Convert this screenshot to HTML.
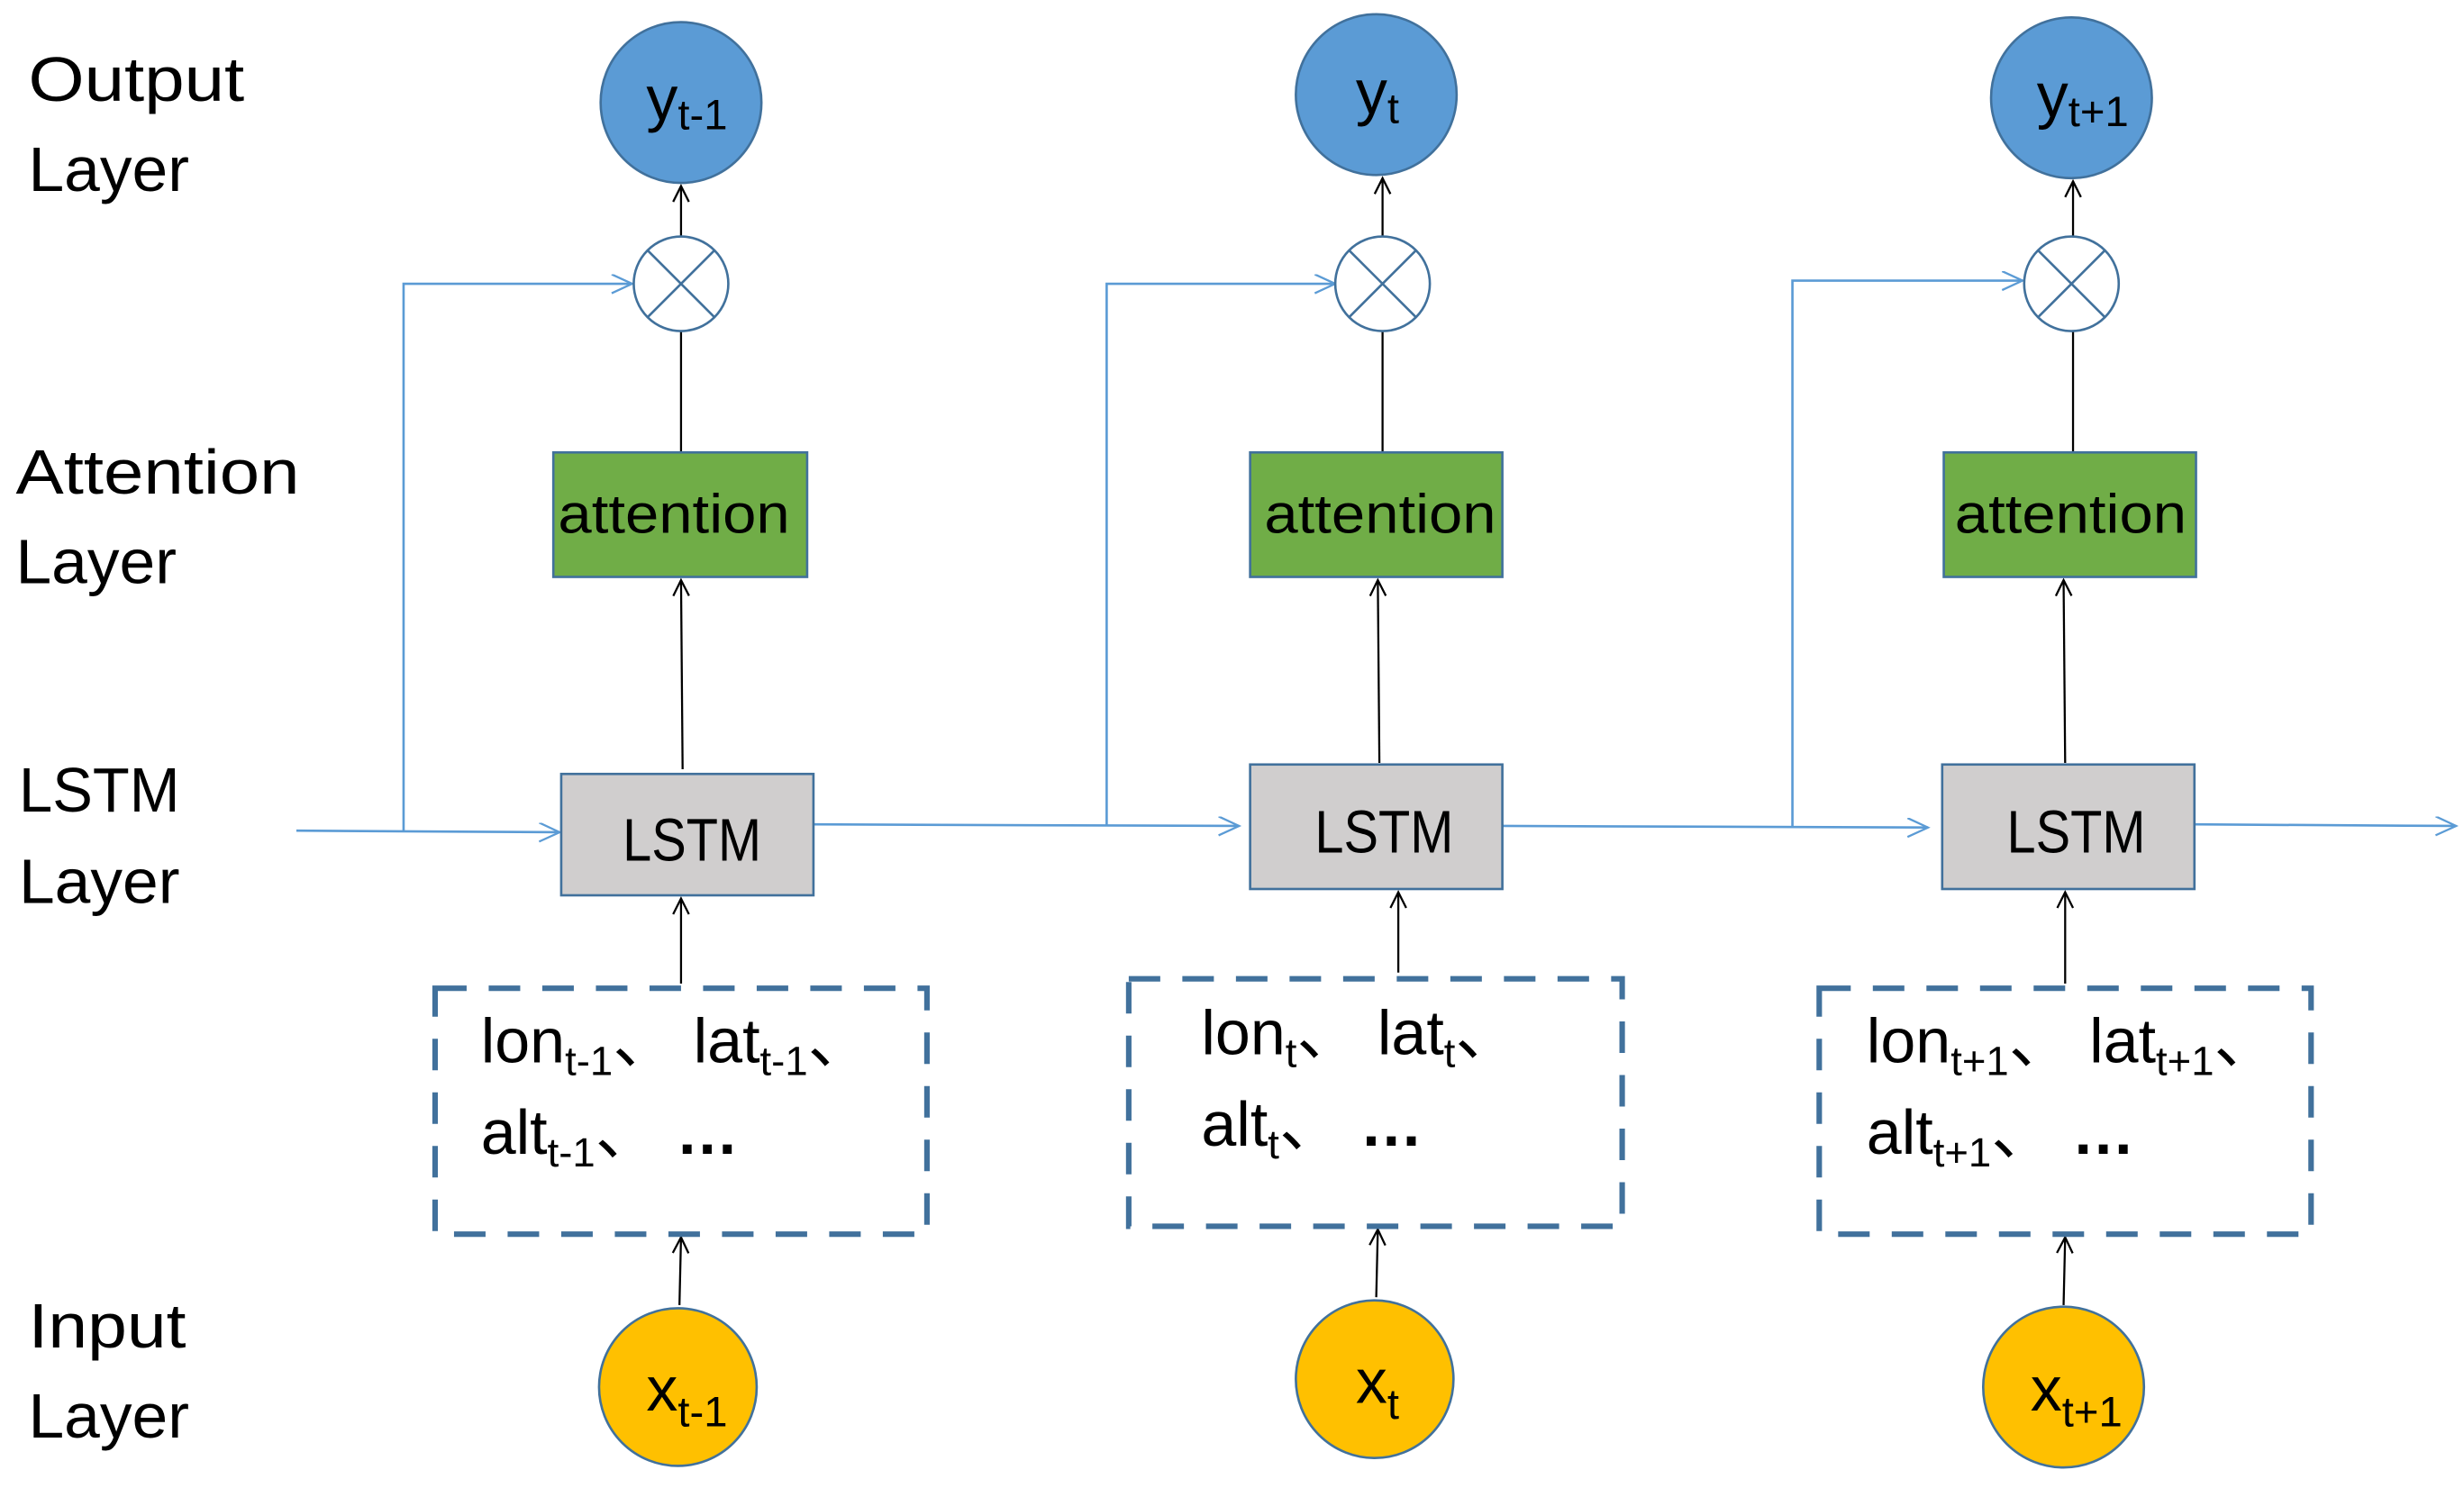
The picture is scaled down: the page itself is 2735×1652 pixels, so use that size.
<!DOCTYPE html>
<html><head><meta charset="utf-8"><style>
html,body{margin:0;padding:0;background:#fff}
svg{display:block}
text{font-family:"Liberation Sans","Noto Sans CJK SC",sans-serif;fill:#000}
</style></head><body>
<svg width="2735" height="1652" viewBox="0 0 1563 944" xmlns="http://www.w3.org/2000/svg">
<defs>
<marker id="ab" markerWidth="14" markerHeight="14" refX="11" refY="6" orient="auto" markerUnits="userSpaceOnUse"><path d="M1,1 L11,6 L1,11" fill="none" stroke="#000" stroke-width="1.3"/></marker>
<marker id="au" markerWidth="18" markerHeight="14" refX="14" refY="6" orient="auto" markerUnits="userSpaceOnUse"><path d="M1,0 L14,6 L1,12" fill="none" stroke="#5b9bd5" stroke-width="1.3"/></marker>
</defs>
<g font-size="40">
<text x="18" y="64" textLength="137" lengthAdjust="spacingAndGlyphs">Output</text>
<text x="18" y="121" textLength="102" lengthAdjust="spacingAndGlyphs">Layer</text>
<text x="10" y="313" textLength="180" lengthAdjust="spacingAndGlyphs">Attention</text>
<text x="10" y="370" textLength="102" lengthAdjust="spacingAndGlyphs">Layer</text>
<text x="12" y="515" textLength="102" lengthAdjust="spacingAndGlyphs">LSTM</text>
<text x="12" y="573" textLength="102" lengthAdjust="spacingAndGlyphs">Layer</text>
<text x="18" y="855" textLength="100" lengthAdjust="spacingAndGlyphs">Input</text>
<text x="18" y="912" textLength="102" lengthAdjust="spacingAndGlyphs">Layer</text>
</g>
<g stroke="#5b9bd5" stroke-width="1.5" fill="none">
<line x1="188" y1="527" x2="355" y2="528" marker-end="url(#au)"/>
<polyline points="256,527 256,180 401,180" marker-end="url(#au)"/>
<line x1="516" y1="523" x2="786" y2="524" marker-end="url(#au)"/>
<polyline points="702,524 702,180 847,180" marker-end="url(#au)"/>
<line x1="953" y1="524" x2="1223" y2="525" marker-end="url(#au)"/>
<polyline points="1137,524 1137,178 1283,178" marker-end="url(#au)"/>
<line x1="1392" y1="523" x2="1558" y2="524" marker-end="url(#au)"/>
</g>
<g stroke="#000" stroke-width="1.3">
<line x1="432" y1="150" x2="432" y2="118" marker-end="url(#ab)"/>
<line x1="432" y1="287" x2="432" y2="210"/>
<line x1="433" y1="488" x2="432" y2="368" marker-end="url(#ab)"/>
<line x1="432" y1="624" x2="432" y2="570" marker-end="url(#ab)"/>
<line x1="431" y1="828" x2="432" y2="785" marker-end="url(#ab)"/>
<line x1="877" y1="150" x2="877" y2="113" marker-end="url(#ab)"/>
<line x1="877" y1="287" x2="877" y2="210"/>
<line x1="875" y1="484" x2="874" y2="368" marker-end="url(#ab)"/>
<line x1="887" y1="617" x2="887" y2="566" marker-end="url(#ab)"/>
<line x1="873" y1="823" x2="874" y2="780" marker-end="url(#ab)"/>
<line x1="1315" y1="150" x2="1315" y2="115" marker-end="url(#ab)"/>
<line x1="1315" y1="287" x2="1315" y2="210"/>
<line x1="1310" y1="484" x2="1309" y2="368" marker-end="url(#ab)"/>
<line x1="1310" y1="624" x2="1310" y2="566" marker-end="url(#ab)"/>
<line x1="1309" y1="828" x2="1310" y2="785" marker-end="url(#ab)"/>
</g>
<g fill="#5b9bd5" stroke="#41719c" stroke-width="1.5">
<circle cx="432" cy="65" r="51"/><circle cx="873" cy="60" r="51"/><circle cx="1314" cy="62" r="51"/>
</g>
<g font-size="40">
<text x="410" y="76">y<tspan font-size="27" dy="6">t-1</tspan></text>
<text x="860" y="72">y<tspan font-size="27" dy="6">t</tspan></text>
<text x="1292" y="74">y<tspan font-size="27" dy="6">t+1</tspan></text>
</g>
<g fill="#fff" stroke="#41719c" stroke-width="1.5">
<circle cx="432" cy="180" r="30"/><line x1="411" y1="159" x2="453" y2="201"/><line x1="453" y1="159" x2="411" y2="201"/>
<circle cx="877" cy="180" r="30"/><line x1="856" y1="159" x2="898" y2="201"/><line x1="898" y1="159" x2="856" y2="201"/>
<circle cx="1314" cy="180" r="30"/><line x1="1293" y1="159" x2="1335" y2="201"/><line x1="1335" y1="159" x2="1293" y2="201"/>
</g>
<g fill="#70ad47" stroke="#41719c" stroke-width="1.5">
<rect x="351" y="287" width="161" height="79"/><rect x="793" y="287" width="160" height="79"/><rect x="1233" y="287" width="160" height="79"/>
</g>
<g font-size="35">
<text x="354" y="338" textLength="147" lengthAdjust="spacingAndGlyphs">attention</text>
<text x="802" y="338" textLength="147" lengthAdjust="spacingAndGlyphs">attention</text>
<text x="1240" y="338" textLength="147" lengthAdjust="spacingAndGlyphs">attention</text>
</g>
<g fill="#d0cece" stroke="#41719c" stroke-width="1.5">
<rect x="356" y="491" width="160" height="77"/><rect x="793" y="485" width="160" height="79"/><rect x="1232" y="485" width="160" height="79"/>
</g>
<g font-size="38">
<text x="395" y="546" textLength="88" lengthAdjust="spacingAndGlyphs">LSTM</text>
<text x="834" y="541" textLength="88" lengthAdjust="spacingAndGlyphs">LSTM</text>
<text x="1273" y="541" textLength="88" lengthAdjust="spacingAndGlyphs">LSTM</text>
</g>
<g fill="none" stroke="#41719c" stroke-width="3.5" stroke-dasharray="20,14">
<rect x="276" y="627" width="312" height="156"/><rect x="716" y="621" width="313" height="157"/><rect x="1154" y="627" width="312" height="156"/>
</g>
<g font-size="40">
<text x="305" y="674">lon<tspan font-size="26" dy="8">t-1</tspan><tspan dy="-8">、 lat</tspan><tspan font-size="26" dy="8">t-1</tspan><tspan dy="-8">、</tspan></text>
<text x="305" y="732">alt<tspan font-size="26" dy="8">t-1</tspan><tspan dy="-8">、 </tspan><tspan font-weight="bold">…</tspan></text>
<text x="762" y="669">lon<tspan font-size="26" dy="8">t</tspan><tspan dy="-8">、 lat</tspan><tspan font-size="26" dy="8">t</tspan><tspan dy="-8">、</tspan></text>
<text x="762" y="727">alt<tspan font-size="26" dy="8">t</tspan><tspan dy="-8">、 </tspan><tspan font-weight="bold">…</tspan></text>
<text x="1184" y="674">lon<tspan font-size="26" dy="8">t+1</tspan><tspan dy="-8">、 lat</tspan><tspan font-size="26" dy="8">t+1</tspan><tspan dy="-8">、</tspan></text>
<text x="1184" y="732">alt<tspan font-size="26" dy="8">t+1</tspan><tspan dy="-8">、 </tspan><tspan font-weight="bold">…</tspan></text>
</g>
<g fill="#ffc000" stroke="#41719c" stroke-width="1.5">
<circle cx="430" cy="880" r="50"/><circle cx="872" cy="875" r="50"/><circle cx="1309" cy="880" r="51"/>
</g>
<g font-size="40">
<text x="410" y="895">x<tspan font-size="27" dy="10">t-1</tspan></text>
<text x="860" y="890">x<tspan font-size="27" dy="10">t</tspan></text>
<text x="1288" y="895">x<tspan font-size="27" dy="10">t+1</tspan></text>
</g>
</svg>
</body></html>
